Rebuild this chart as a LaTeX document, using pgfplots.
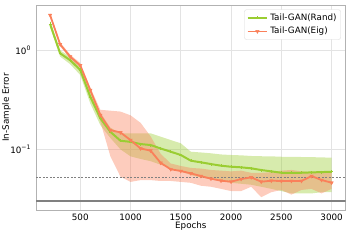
\documentclass[border=0pt]{standalone}
\usepackage{fontspec}
\setmainfont{DejaVu Sans}
\usepackage{pgfplots}
\pgfplotsset{compat=1.18}
\usepgfplotslibrary{fillbetween}
\usepackage{pgfplotstable}
\definecolor{cg}{RGB}{154,205,50}
\definecolor{co}{RGB}{250,128,90}

\pgfplotstableread{
x gm gl gu om ol ou
200 1.83 1.70 1.97 2.25 2.15 2.35
300 0.926 0.86 0.99 1.14 1.09 1.19
400 0.79 0.72 0.86 0.857 0.82 0.90
500 0.63 0.56 0.70 0.70 0.66 0.74
600 0.338 0.29 0.385 0.395 0.37 0.42
700 0.205 0.175 0.235 0.221 0.19 0.25
800 0.150 0.13 0.165 0.156 0.085 0.245
900 0.122 0.10 0.145 0.148 0.053 0.24
1000 0.119 0.085 0.145 0.124 0.047 0.22
1100 0.113 0.08 0.145 0.102 0.049 0.185
1200 0.1105 0.076 0.145 0.097 0.049 0.135
1300 0.102 0.070 0.134 0.073 0.048 0.09
1400 0.0946 0.065 0.124 0.063 0.048 0.072
1500 0.0877 0.060 0.115 0.0605 0.047 0.068
1600 0.0768 0.055 0.0946 0.0573 0.046 0.065
1700 0.074 0.052 0.093 0.0538 0.043 0.064
1800 0.0711 0.050 0.0912 0.0506 0.042 0.062
1900 0.0684 0.048 0.0888 0.0483 0.040 0.061
2000 0.0668 0.046 0.0877 0.0472 0.038 0.060
2100 0.0659 0.045 0.087 0.0502 0.038 0.061
2200 0.0644 0.044 0.0857 0.0522 0.042 0.058
2300 0.0619 0.042 0.0852 0.0472 0.033 0.058
2400 0.060 0.040 0.085 0.0483 0.037 0.059
2500 0.0581 0.038 0.0842 0.048 0.039 0.061
2600 0.0581 0.036 0.084 0.048 0.035 0.062
2700 0.0581 0.036 0.0837 0.048 0.039 0.060
2800 0.0586 0.036 0.0834 0.0538 0.040 0.059
2900 0.059 0.037 0.083 0.0491 0.036 0.060
3000 0.0595 0.037 0.0823 0.0461 0.040 0.059
}\data

\begin{document}
\begin{tikzpicture}
\begin{axis}[
  scale only axis, width=309.7bp, height=205bp,
  ymode=log, xmin=60, xmax=3140, ymin=0.0245, ymax=2.84,
  xtick={500,1000,...,3000},
  ytick={0.1,1}, yticklabels={10\textsuperscript{−1},10\textsuperscript{0}},
  grid=major, major grid style={draw=black!11, line width=0.6pt},
  axis line style={draw=black!30, line width=0.8pt},
  major tick length=0pt, minor tick length=0pt,
  tick label style={font=\fontsize{8.8}{10}\selectfont},
  /pgf/number format/assume math mode=true,
  /pgf/number format/1000 sep={},
  scaled x ticks=false,
  yticklabel style={xshift=-1.5bp},
  xticklabel style={yshift=-0.5bp},
  xlabel={Epochs}, ylabel={In-Sample Error},
  label style={font=\fontsize{8.8}{10}\selectfont},
  xlabel style={at={(axis description cs:0.5,-0.08)}, anchor=center},
  ylabel style={at={(axis description cs:-0.095,0.5)}, anchor=center},
  legend style={at={(0.984,0.978)}, anchor=north east, draw=black!15, rounded corners=2pt,
    fill=white, font=\fontsize{8.8}{10}\selectfont, row sep=1.5bp, inner sep=2bp},
  legend cell align=left,
  legend image code/.code={\draw[mark repeat=2,mark phase=2,#1] plot coordinates {(0cm,0cm) (0.35cm,0cm) (0.7cm,0cm)};},
]
\addplot[name path=gu, draw=none, forget plot] table[x=x,y=gu]{\data};
\addplot[name path=gl, draw=none, forget plot] table[x=x,y=gl]{\data};
\addplot[fill=cg, fill opacity=0.4, draw=none, forget plot] fill between[of=gu and gl];
\addplot[name path=ou, draw=none, forget plot] table[x=x,y=ou]{\data};
\addplot[name path=ol, draw=none, forget plot] table[x=x,y=ol]{\data};
\addplot[fill=co, fill opacity=0.4, draw=none, forget plot] fill between[of=ou and ol];
\addplot[black!50, dashed, dash pattern=on 2pt off 1.5pt, line width=0.6pt, forget plot] coordinates {(60,0.0522) (3140,0.0522)};
\addplot[black!50, line width=1.6pt, forget plot] coordinates {(60,0.0302) (3140,0.0302)};
\addplot[cg, line width=2pt, mark=+, mark size=1.5pt, mark options={line width=0.6pt}] table[x=x,y=gm]{\data};
\addlegendentry{Tail-GAN(Rand)}
\addplot[co, line width=1.8pt, mark=triangle*, mark options={rotate=180, line width=0.4pt}, mark size=2pt] table[x=x,y=om]{\data};
\addlegendentry{Tail-GAN(Eig)}
\end{axis}
\pgfresetboundingbox
\path ([shift={(-36bp,-30bp)}]current axis.south west) rectangle ([shift={(13.3bp,5bp)}]current axis.north east);
\end{tikzpicture}
\end{document}
